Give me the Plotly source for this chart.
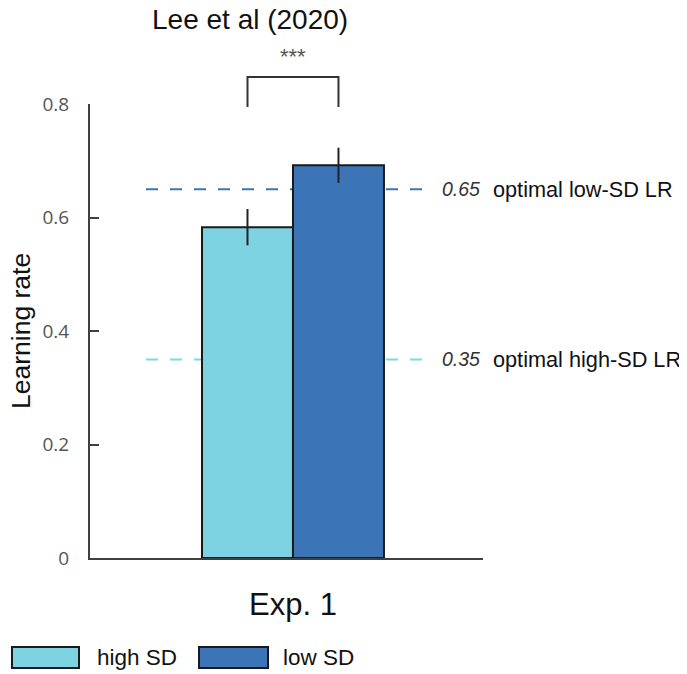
import plotly.graph_objects as go

# ---- data ----
categories = ["Exp. 1"]
series_names = ["high SD", "low SD"]
means_high = [0.583]
means_low = [0.692]
err_high = [0.032]
err_low = [0.031]
optimal_values = [0.65, 0.35]
optimal_labels = ["optimal low-SD LR", "optimal high-SD LR"]
y_tick_vals = [0, 0.2, 0.4, 0.6, 0.8]
y_tick_text = ["0", "0.2", "0.4", "0.6", "0.8"]
title_text = "Lee et al (2020)"
y_title = "Learning rate"
sig_text = "***"

# ---- styles ----
col_high = "#7dd3e1"
col_low = "#3b75b7"
axis_col = "#404040"
O = 8  # page body margin
W, H = 687 - O, 674 - O
L, R, T, B = 90 - O, 204, 104 - O, 116
XR = [-0.5165, 0.4835]
YR = [0, 0.8]
bargap = 0.537

def px_x(px):
    return (px - O - L) / (W - L - R)

def px_y(py):
    return (H - B - (py - O)) / (H - T - B)

def data_x_paper(x):
    return (x - XR[0]) / (XR[1] - XR[0])

FONT = "Liberation Sans, Arial"

fig = go.Figure()
for name, vals, errs, col in [
    (series_names[0], means_high, err_high, col_high),
    (series_names[1], means_low, err_low, col_low),
]:
    fig.add_trace(go.Bar(
        x=categories, y=vals, name=name,
        marker=dict(color=col, line=dict(color="#1a1a1a", width=2)),
        error_y=dict(type="data", array=errs, visible=True,
                     color="#222222", thickness=2, width=0),
        showlegend=False,
    ))

# dashed optimal lines
dash_cols = [col_low, "#7fd6e6"]
for v, c in zip(optimal_values, dash_cols):
    fig.add_shape(type="line", xref="paper", yref="y",
                  x0=px_x(146), x1=px_x(425), y0=v, y1=v,
                  line=dict(color=c, width=2, dash="12px,12px"), layer="below")

for v, lab in zip(optimal_values, optimal_labels):
    fig.add_annotation(xref="paper", yref="y", x=px_x(440), y=v,
                       text=f"<i>{v:.2f}</i>", showarrow=False,
                       xanchor="left", yanchor="middle",
                       font=dict(family=FONT, size=19.5, color="#333333"))
    fig.add_annotation(xref="paper", yref="y", x=px_x(491), y=v,
                       text=lab, showarrow=False, xanchor="left", yanchor="middle",
                       font=dict(family=FONT, size=21.7, color="#111111"))

# significance bracket between bar centres
bar_w = (1 - bargap) / 2
c_high = data_x_paper(-bar_w / 2)
c_low = data_x_paper(bar_w / 2)
fig.add_shape(type="path", xref="paper", yref="paper",
              path=f"M {c_high} {px_y(107)} L {c_high} {px_y(77)} L {c_low} {px_y(77)} L {c_low} {px_y(107)}",
              line=dict(color="#333333", width=2))
fig.add_annotation(xref="paper", yref="paper", x=data_x_paper(0), y=px_y(57),
                   text=sig_text, showarrow=False, xanchor="center", yanchor="middle",
                   font=dict(family=FONT, size=22, color="#555555"))

# title
fig.add_annotation(xref="paper", yref="paper", x=px_x(250), y=px_y(19),
                   text=title_text, showarrow=False, xanchor="center", yanchor="middle",
                   font=dict(family=FONT, size=28, color="#111111"))
# y title
fig.add_annotation(xref="paper", yref="paper", x=px_x(21), y=px_y(331),
                   text=y_title, showarrow=False, textangle=-90,
                   xanchor="center", yanchor="middle",
                   font=dict(family=FONT, size=26.5, color="#111111"))

# custom legend
leg = [(12, 79, 95, series_names[0], col_high), (199, 268, 281, series_names[1], col_low)]
for x0, x1, tx, name, col in leg:
    fig.add_shape(type="rect", xref="paper", yref="paper",
                  x0=px_x(x0), x1=px_x(x1), y0=px_y(647), y1=px_y(668),
                  fillcolor=col, line=dict(color="#1a1a1a", width=2))
    fig.add_annotation(xref="paper", yref="paper", x=px_x(tx), y=px_y(657),
                       text=name, showarrow=False, xanchor="left", yanchor="middle",
                       font=dict(family=FONT, size=22.5, color="#111111"))

fig.update_layout(
    width=W, height=H,
    margin=dict(l=L, r=R, t=T, b=B, autoexpand=False),
    paper_bgcolor="white", plot_bgcolor="white",
    barmode="group", bargap=bargap, bargroupgap=0,
    showlegend=False,
)
fig.update_xaxes(range=XR, showline=True, linecolor=axis_col, linewidth=2,
                 showgrid=False, zeroline=False, ticks="",
                 tickfont=dict(family=FONT, size=31, color="#111111"),
                 ticklabelstandoff=18)
fig.update_yaxes(range=YR, showline=True, linecolor=axis_col, linewidth=2,
                 showgrid=False, zeroline=False, ticks="inside", ticklen=9,
                 tickwidth=2, tickcolor=axis_col,
                 tickvals=y_tick_vals, ticktext=y_tick_text,
                 tickfont=dict(family="Open Sans", size=19, color="#555555"),
                 ticklabelstandoff=15)

fig.write_html("out.html")
